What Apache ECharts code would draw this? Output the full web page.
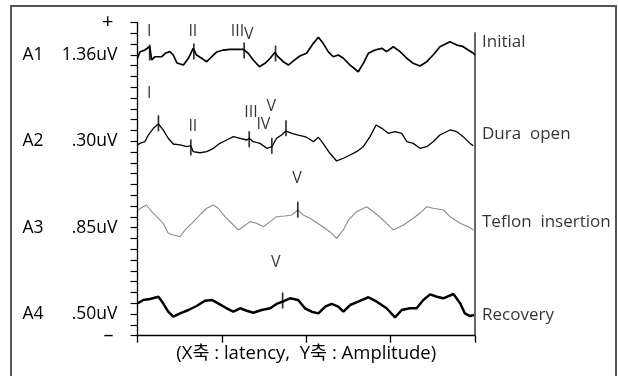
<!DOCTYPE html>
<html>
<head>
<meta charset="utf-8">
<script src="https://cdn.jsdelivr.net/npm/echarts@6/dist/echarts.min.js"></script>
<style>
  html, body { margin: 0; padding: 0; background: #fff; }
  #chart { width: 618px; height: 376px; }
</style>
</head>
<body>
<div id="chart"></div>
<script>
// ABR traces, latency (ms) vs stacked amplitude units
const traceA1 = [
  [0, 25.69], [0.07, 26.27], [0.22, 26.45], [0.36, 26.78], [0.42, 25.53], [0.52, 25.83], [0.72, 25.83],
  [0.84, 26.18], [0.96, 26.30], [1.06, 25.99], [1.17, 25.25], [1.36, 25.06], [1.51, 25.69], [1.65, 26.61],
  [1.75, 25.99], [1.90, 25.69], [2.05, 25.37], [2.20, 25.83], [2.35, 26.27], [2.54, 26.45], [2.74, 26.52],
  [2.94, 26.52], [3.13, 26.52], [3.28, 26.15], [3.43, 25.53], [3.61, 24.91], [3.78, 25.22], [3.93, 25.69],
  [4.07, 26.22], [4.17, 25.81], [4.32, 25.37], [4.47, 25.06], [4.62, 25.44], [4.81, 25.90], [5.01, 26.15],
  [5.21, 27.07], [5.36, 27.63], [5.50, 27.07], [5.65, 26.30], [5.80, 25.83], [5.95, 25.99], [6.10, 25.69],
  [6.30, 25.06], [6.54, 24.44], [6.69, 25.22], [6.84, 26.15], [7.04, 26.45], [7.24, 26.61], [7.38, 26.30],
  [7.58, 26.76], [7.78, 26.30], [7.98, 25.69], [8.17, 25.22], [8.37, 24.97], [8.57, 25.37], [8.76, 25.99],
  [8.96, 26.76], [9.26, 27.22], [9.46, 26.92], [9.65, 26.76], [9.80, 26.45], [9.95, 26.15], [10, 25.99]
]
const traceA2 = [
  [0, 17.66], [0.07, 17.81], [0.22, 17.96], [0.32, 18.58], [0.47, 19.20], [0.62, 19.60], [0.76, 19.05],
  [0.91, 18.28], [1.06, 17.75], [1.26, 17.66], [1.46, 17.50], [1.58, 17.59], [1.65, 17.04], [1.85, 16.94],
  [2.05, 17.04], [2.25, 17.35], [2.44, 17.81], [2.64, 18.12], [2.84, 18.43], [3.04, 18.28], [3.24, 18.12],
  [3.31, 18.28], [3.43, 17.96], [3.63, 17.81], [3.83, 17.35], [3.98, 17.50], [4.12, 18.28], [4.27, 18.58],
  [4.40, 18.95], [4.57, 18.74], [4.76, 18.58], [4.96, 18.43], [5.06, 18.28], [5.21, 17.96], [5.36, 18.37],
  [5.50, 17.81], [5.70, 16.89], [5.90, 16.18], [6.10, 16.43], [6.30, 16.73], [6.49, 17.04], [6.69, 17.50],
  [6.89, 18.43], [7.07, 19.51], [7.24, 19.20], [7.43, 18.74], [7.63, 18.89], [7.83, 18.74], [7.98, 17.96],
  [8.17, 17.81], [8.37, 17.35], [8.57, 17.50], [8.76, 17.96], [8.96, 18.58], [9.26, 19.05], [9.46, 18.89],
  [9.65, 18.43], [9.85, 17.81], [9.95, 17.59]
]
const traceA3 = [
  [0.01, 11.64], [0.17, 11.94], [0.27, 12.10], [0.42, 11.48], [0.57, 11.02], [0.76, 10.41], [0.91, 9.48],
  [1.06, 9.32], [1.26, 9.17], [1.41, 9.79], [1.61, 10.41], [1.85, 11.18], [2.05, 11.80], [2.25, 12.10],
  [2.39, 11.80], [2.59, 11.02], [2.84, 10.25], [2.99, 9.79], [3.13, 10.09], [3.33, 10.56], [3.53, 10.41],
  [3.73, 10.09], [3.93, 10.56], [4.12, 11.02], [4.37, 11.08], [4.57, 11.18], [4.75, 11.64], [4.91, 11.18],
  [5.11, 10.87], [5.41, 10.25], [5.70, 9.63], [5.90, 9.02], [6.10, 9.79], [6.25, 10.71], [6.49, 11.48],
  [6.79, 11.94], [6.99, 11.48], [7.28, 10.71], [7.58, 9.79], [7.88, 10.25], [8.17, 10.87], [8.42, 11.48],
  [8.57, 11.94], [8.76, 11.80], [9.06, 11.64], [9.26, 11.02], [9.56, 10.41], [9.80, 10.09], [9.95, 9.79]
]
const traceA4 = [
  [0.01, 3.00], [0.17, 3.31], [0.37, 3.40], [0.62, 3.61], [0.76, 3.00], [0.91, 2.22], [1.06, 1.76],
  [1.26, 2.07], [1.51, 2.38], [1.75, 2.75], [2.00, 3.24], [2.20, 3.31], [2.39, 3.00], [2.64, 2.54],
  [2.84, 2.22], [3.04, 2.54], [3.24, 2.31], [3.43, 2.13], [3.68, 2.38], [3.93, 2.54], [4.12, 2.94],
  [4.30, 3.15], [4.52, 3.46], [4.76, 3.31], [4.96, 2.54], [5.16, 2.22], [5.36, 2.07], [5.56, 2.69],
  [5.75, 2.94], [5.95, 2.69], [6.10, 2.22], [6.30, 2.84], [6.54, 3.15], [6.84, 3.56], [7.09, 3.15],
  [7.38, 2.54], [7.63, 1.70], [7.83, 2.38], [8.07, 2.54], [8.27, 2.54], [8.47, 3.31], [8.67, 3.83],
  [8.87, 3.61], [9.06, 3.46], [9.36, 3.86], [9.56, 3.00], [9.70, 2.07], [9.85, 1.82], [9.97, 1.92]
]

// wave peak tick marks and their roman numerals
const markerPos = [
  [0.36, 26.22], [1.67, 26.31], [3.16, 26.41], [4.09, 26.13],
  [0.62, 19.67], [1.58, 17.43], [3.31, 18.19], [3.98, 17.58], [4.40, 19.20],
  [4.75, 11.67], [4.30, 3.26]
]
const peakText = ['I', 'II', 'III', 'V', 'I', 'II', 'III', 'IV', 'V', 'V', 'V']
const peakPos = [
  [0.35, 28.19], [1.64, 28.19], [2.96, 28.19], [3.30, 27.89],
  [0.35, 22.41], [1.64, 19.42], [3.36, 20.71], [3.73, 19.60], [3.96, 21.20],
  [4.73, 14.60], [4.10, 6.75]
]

const traceNames = ['A1', 'A2', 'A3', 'A4']
const amplitudes = ['1.36uV', '.30uV', '.85uV', '.50uV']
const labelTicks = [26, 18, 10, 2]
const conditions = ['Initial', 'Dura  open', 'Teflon  insertion', 'Recovery']
const conditionLevels = [27.2, 18.7, 10.5, 1.9]
const endLine = [[10, 0], [10, 28.1]]

const font = "'Open Sans', 'Noto Sans CJK KR', sans-serif"
const ink = '#000'

const chart = echarts.init(document.getElementById('chart'), null, { renderer: 'canvas' })

const lineStyles = [
  { color: ink, width: 1.7 },
  { color: ink, width: 1.3 },
  { color: '#8c8c8c', width: 1.1 },
  { color: ink, width: 2.5 }
]

const traceSeries = [traceA1, traceA2, traceA3, traceA4].map((data, i) => ({
  name: traceNames[i],
  type: 'line',
  data,
  showSymbol: false,
  symbol: 'none',
  lineStyle: lineStyles[i],
  z: 3
}))

chart.setOption({
  animation: false,
  textStyle: { fontFamily: font },
  graphic: [
    {
      type: 'rect',
      shape: { x: 11, y: 6, width: 605, height: 380 },
      style: { fill: 'none', stroke: '#555', lineWidth: 2 },
      silent: true
    }
  ],
  grid: { left: 137.5, right: 143, top: 22.5, bottom: 40.3 },
  xAxis: {
    type: 'value',
    min: 0,
    max: 10,
    interval: 2.5,
    name: '(X축 : latency,  Y축 : Amplitude)',
    nameLocation: 'middle',
    nameGap: 9,
    nameTextStyle: { fontSize: 18.5, color: ink, fontFamily: font },
    axisLine: { lineStyle: { color: ink, width: 1.3 } },
    axisTick: { length: 7, lineStyle: { color: ink, width: 1.3 } },
    axisLabel: { show: false },
    splitLine: { show: false }
  },
  yAxis: {
    type: 'value',
    min: 0,
    max: 29,
    interval: 1,
    axisLine: { show: true, lineStyle: { color: ink, width: 1.3 } },
    axisTick: { show: true, length: 7, lineStyle: { color: ink, width: 1.2 } },
    splitLine: { show: false },
    axisLabel: {
      margin: 20,
      color: ink,
      fontSize: 17.5,
      formatter: function (v) {
        if (v === 29) return '{s|+}'
        if (v === 0) return '{s|\u2013}'
        const k = labelTicks.indexOf(v)
        if (k < 0) return ''
        return '{n|' + traceNames[k] + '}{a|' + amplitudes[k] + '}'
      },
      rich: {
        n: { width: 38, align: 'left', fontSize: 17.5, color: ink, fontFamily: font },
        a: { width: 57, align: 'right', fontSize: 17.5, color: ink, fontFamily: font },
        s: { fontSize: 20, color: ink, padding: [0, 4, 0, 0], fontFamily: font }
      }
    }
  },
  series: [
    ...traceSeries,
    {
      name: 'end',
      type: 'line',
      data: endLine,
      symbol: 'none',
      lineStyle: { color: ink, width: 1.2 },
      z: 2
    },
    {
      name: 'markers',
      type: 'scatter',
      data: markerPos,
      symbol: 'rect',
      symbolSize: [1.7, 16],
      itemStyle: { color: ink },
      z: 4
    },
    {
      name: 'peaks',
      type: 'scatter',
      data: peakPos.map((p, i) => ({ value: p, name: peakText[i] })),
      symbolSize: 0,
      label: {
        show: true,
        position: 'inside',
        formatter: '{b}',
        fontSize: 16,
        color: ink,
        fontFamily: font
      },
      z: 5
    },
    {
      name: 'conditions',
      type: 'scatter',
      data: conditionLevels.map((y, i) => ({ value: [10, y], name: conditions[i] })),
      symbolSize: 0,
      clip: false,
      label: {
        show: true,
        position: 'right',
        distance: 7,
        formatter: '{b}',
        fontSize: 17,
        color: ink,
        fontFamily: font
      },
      z: 5
    }
  ]
})
</script>
</body>
</html>
